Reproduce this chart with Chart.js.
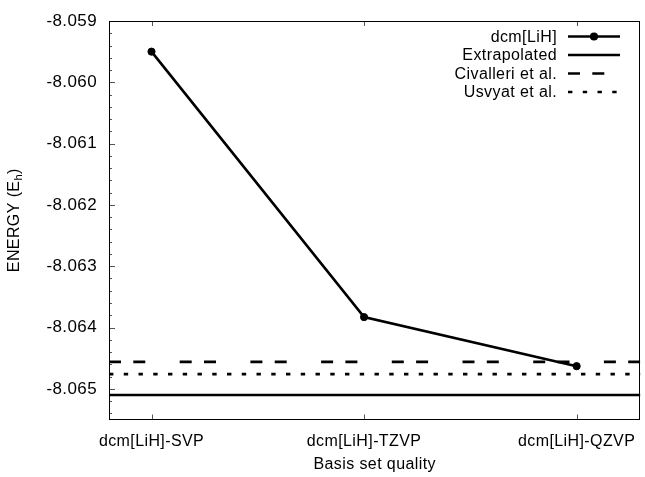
<!DOCTYPE html>
<html>
<head>
<meta charset="utf-8">
<script src="https://cdn.jsdelivr.net/npm/chart.js@4.4.1/dist/chart.umd.min.js"></script>
<style>
  html, body { margin: 0; padding: 0; background: #fff; }
  #wrap { width: 645px; height: 477px; }
</style>
</head>
<body>
<div id="wrap"><canvas id="energy_chart"></canvas></div>
<script>
// basis sets along x, total energies in hartree
const basisSets = ["dcm[LiH]-SVP", "dcm[LiH]-TZVP", "dcm[LiH]-QZVP"];
const basisPos = [0, 1, 2];
const dcmEnergy = [-8.0595, -8.06383, -8.06463];

// reference values drawn as flat lines
const refLabels = ["Extrapolated", "Civalleri et al.", "Usvyat et al."];
const refEnergy = [-8.0651, -8.06456, -8.06476];

const energyTicks = [-8.065, -8.064, -8.063, -8.062, -8.061, -8.060, -8.059];
const xLimits = [-0.2, 2.3];
const yLimits = [-8.0655, -8.059];

const FONT = "'Liberation Sans', Arial, sans-serif";
const refDash = [[], [12, 12.3, 12, 34.4], [4.4, 10.35]];
const LINE_W = 2.6;

const datasets = [{
    label: "dcm[LiH]",
    data: basisPos.map((x, i) => ({ x: x, y: dcmEnergy[i] })),
    borderColor: "#000",
    backgroundColor: "#000",
    borderWidth: LINE_W,
    pointRadius: 3.6,
    pointBorderWidth: 1,
    pointHoverRadius: 3.6
}].concat(refLabels.map((label, i) => ({
    label: label,
    data: xLimits.map(x => ({ x: x, y: refEnergy[i] })),
    borderColor: "#000",
    borderWidth: LINE_W,
    borderDash: refDash[i],
    borderCapStyle: "butt",
    pointRadius: 0,
    pointHoverRadius: 0
})));

// frame, inward ticks, axis titles and the key
const decorations = {
    id: "decorations",
    beforeDraw(chart) {
        chart.ctx.letterSpacing = "0.4px";
    },
    afterDraw(chart) {
        const ctx = chart.ctx;
        const a = chart.chartArea;
        const xs = chart.scales.x;
        const ys = chart.scales.y;
        ctx.save();

        // y ticks: major every 0.001, minor every 0.0002
        ctx.strokeStyle = "#555";
        ctx.lineWidth = 1;
        ctx.beginPath();
        for (let k = 0; ; k++) {
            const v = yLimits[1] - k * 0.0002;
            if (v < yLimits[0] - 1e-9) break;
            const py = Math.round(ys.getPixelForValue(v)) + 0.5;
            const len = k % 5 === 0 ? 6 : 3;
            ctx.moveTo(a.left, py);
            ctx.lineTo(a.left + len, py);
        }
        // x ticks, bottom and mirrored on top
        basisPos.forEach(v => {
            const px = Math.round(xs.getPixelForValue(v)) + 0.5;
            ctx.moveTo(px, a.bottom);
            ctx.lineTo(px, a.bottom - 5);
            ctx.moveTo(px, a.top);
            ctx.lineTo(px, a.top + 5);
        });
        ctx.stroke();

        // frame
        ctx.strokeStyle = "#000";
        ctx.strokeRect(Math.round(a.left) + 0.5, Math.round(a.top) + 0.5,
            Math.round(a.width) - 1, Math.round(a.height) - 1);

        // axis titles
        ctx.fillStyle = "#000";
        ctx.font = "16px " + FONT;
        ctx.textAlign = "center";
        ctx.textBaseline = "alphabetic";
        ctx.fillText("Basis set quality", (a.left + a.right) / 2, 469);

        ctx.save();
        ctx.translate(18.5, (a.top + a.bottom) / 2);
        ctx.rotate(-Math.PI / 2);
        ctx.textAlign = "left";
        const main = "ENERGY (E", sub = "h", close = ")";
        ctx.font = "16px " + FONT;
        const w1 = ctx.measureText(main).width;
        const w3 = ctx.measureText(close).width;
        ctx.font = "11px " + FONT;
        const w2 = ctx.measureText(sub).width;
        let cx = -(w1 + w2 + w3) / 2;
        ctx.font = "16px " + FONT;
        ctx.fillText(main, cx, 0);
        cx += w1;
        ctx.font = "11px " + FONT;
        ctx.fillText(sub, cx, 3);
        cx += w2;
        ctx.font = "16px " + FONT;
        ctx.fillText(close, cx, 0);
        ctx.restore();

        // key: right-aligned text, line sample on the right
        const textRight = 557, s0 = 568, s1 = 620;
        ctx.font = "16px " + FONT;
        ctx.textAlign = "right";
        ctx.textBaseline = "middle";
        chart.data.datasets.forEach((ds, i) => {
            const ry = 36.5 + i * 18.5;
            ctx.fillText(ds.label, textRight, ry + 1);
            ctx.beginPath();
            ctx.setLineDash(ds.borderDash || []);
            ctx.lineWidth = LINE_W;
            ctx.lineCap = "butt";
            ctx.moveTo(s0, ry);
            ctx.lineTo(s1, ry);
            ctx.stroke();
            ctx.setLineDash([]);
            if (ds.pointRadius > 0) {
                ctx.beginPath();
                ctx.arc((s0 + s1) / 2, ry, ds.pointRadius + 0.5, 0, Math.PI * 2);
                ctx.fill();
            }
        });
        ctx.restore();
    }
};

const energyChart = new Chart(document.getElementById("energy_chart"), {
    type: "line",
    data: { datasets: datasets },
    plugins: [decorations],
    options: {
        responsive: true,
        maintainAspectRatio: false,
        animation: false,
        events: [],
        layout: { padding: { top: 21, right: 3, left: 0, bottom: 0 } },
        plugins: {
            legend: { display: false },
            tooltip: { enabled: false }
        },
        scales: {
            x: {
                type: "linear",
                min: xLimits[0],
                max: xLimits[1],
                grid: { display: false, drawTicks: false },
                border: { display: false },
                afterBuildTicks: s => { s.ticks = basisPos.map(v => ({ value: v })); },
                ticks: {
                    font: { family: FONT, size: 16 },
                    color: "#000",
                    padding: 12,
                    maxRotation: 0,
                    autoSkip: false,
                    callback: (v, i) => basisSets[i]
                },
                afterFit: s => { s.height = 57.5; s.paddingLeft = 0; s.paddingRight = 0; }
            },
            y: {
                type: "linear",
                min: yLimits[0],
                max: yLimits[1],
                grid: { display: false, drawTicks: false },
                border: { display: false },
                afterBuildTicks: s => { s.ticks = energyTicks.map(v => ({ value: v })); },
                ticks: {
                    font: { family: FONT, size: 17 },
                    color: "#000",
                    padding: 12,
                    callback: v => v.toFixed(3)
                },
                afterFit: s => { s.width = 109; s.paddingTop = 0; s.paddingBottom = 0; }
            }
        }
    }
});
</script>
</body>
</html>
